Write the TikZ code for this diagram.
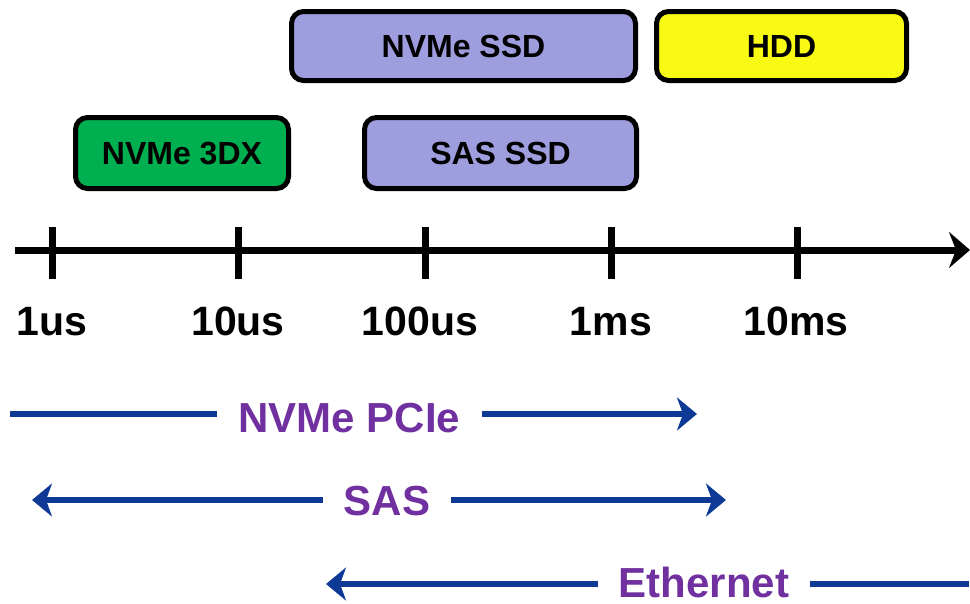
\documentclass[tikz,border=0pt]{standalone}
\usepackage{fontspec}
\setmainfont{Liberation Sans}
\usetikzlibrary{arrows.meta}
\definecolor{boxpurple}{HTML}{9E9DDE}
\definecolor{boxgreen}{HTML}{00AF50}
\definecolor{boxyellow}{HTML}{F8FA14}
\definecolor{linkblue}{HTML}{0E3A96}
\definecolor{labelpurple}{HTML}{7030A0}
\begin{document}
\begin{tikzpicture}[x=1pt,y=-1pt,
  devbox/.style={draw=black, line width=5pt, rounded corners=12pt, inner sep=0pt,
    font=\fontsize{32}{32}\selectfont\bfseries, text height=22.9pt, text depth=0pt, align=center},
  axislabel/.style={anchor=base, inner sep=0pt, font=\fontsize{41}{41}\selectfont\bfseries},
  linklabel/.style={anchor=base, inner ysep=0pt, inner xsep=21pt, text=labelpurple,
    font=\fontsize{42}{42}\selectfont\bfseries},
  link/.style={draw=linkblue, line width=6.5pt},
  tipL/.style={{Stealth[length=20pt,width=33pt,inset=6pt]}-},
  tipR/.style={-{Stealth[length=20pt,width=33pt,inset=6pt]}},
  axisline/.style={line width=7pt, draw=black},
  tick/.style={line width=7pt, draw=black}]
\useasboundingbox (0,0) rectangle (970,603);

% storage boxes
\node[devbox, fill=boxpurple, minimum width=344pt, minimum height=69pt] (nvmessd) at (463.5,46) {NVMe SSD};
\node[devbox, fill=boxyellow, minimum width=250pt, minimum height=69pt] (hdd) at (781.5,46) {HDD};
\node[devbox, fill=boxgreen, minimum width=213pt, minimum height=71pt] (nvme3dx) at (182,153) {NVMe 3DX};
\node[devbox, fill=boxpurple, minimum width=272pt, minimum height=71pt] (sasssd) at (500.5,153) {SAS SSD};

% axis
\coordinate (axstart) at (15,250);
\coordinate (axend) at (970,250);
\draw[axisline, -{Stealth[length=21pt,width=36pt,inset=7pt]}] (axstart) -- (axend);
\foreach \x/\lx/\n/\t in {52/52/t1/1us, 238/238/t2/10us, 425/420/t3/100us, 611/611/t4/1ms, 797/796/t5/10ms}{
  \coordinate (\n a) at (\x,227);
  \coordinate (\n b) at (\x,279);
  \draw[tick] (\n a) -- (\n b);
  \node[axislabel] (\n lab) at (\lx,335) {\t};
}

% interfaces
\node[linklabel] (pcie) at (349.5,432) {NVMe PCIe};
\coordinate (pcieL) at (10,414);
\coordinate (pcieR) at (697,414);
\draw[link] (pcieL) -- (pcieL -| pcie.west);
\draw[link, tipR] (pcieR -| pcie.east) -- (pcieR);

\node[linklabel] (sas) at (387,515) {SAS};
\coordinate (sasL) at (32,500);
\coordinate (sasR) at (726,500);
\draw[link, tipL] (sasL) -- (sasL -| sas.west);
\draw[link, tipR] (sasR -| sas.east) -- (sasR);

\node[linklabel] (eth) at (704,597) {Ethernet};
\coordinate (ethL) at (326,584);
\coordinate (ethR) at (969,584);
\draw[link, tipL] (ethL) -- (ethL -| eth.west);
\draw[link] (ethR -| eth.east) -- (ethR);
\end{tikzpicture}
\end{document}
